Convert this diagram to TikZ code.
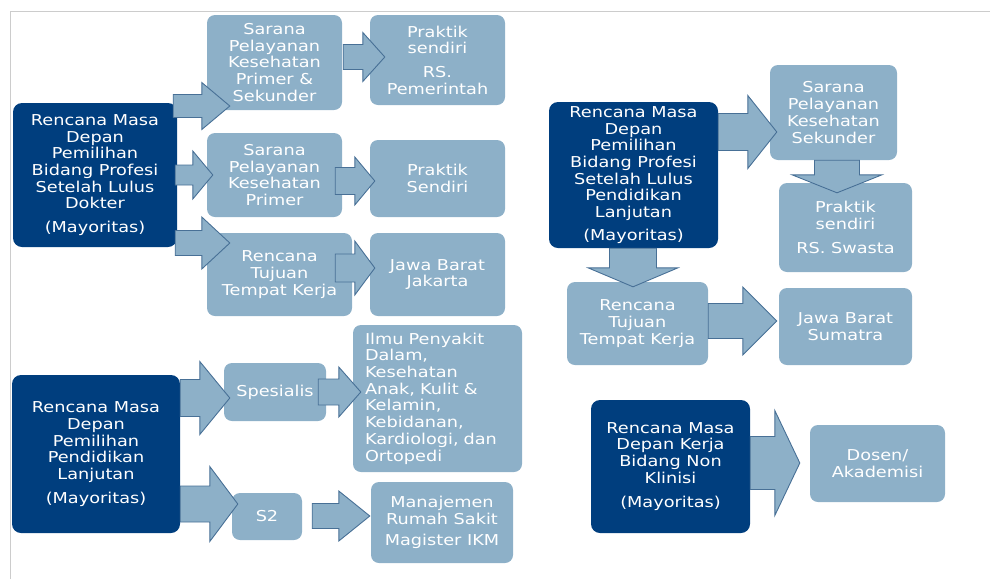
\documentclass[tikz,border=0pt]{standalone}
\usepackage{fontspec}
\setmainfont{DejaVu Sans}[FakeStretch=1.18]
\usetikzlibrary{calc}
\definecolor{navy}{RGB}{0,62,126}
\definecolor{paleblue}{RGB}{141,176,200}
\definecolor{arrowedge}{RGB}{72,112,150}
\definecolor{framegray}{RGB}{204,204,204}
\tikzstyle{darkbox} = [rectangle, rounded corners=9pt, fill=navy, text=white, align=center, inner sep=0pt, font=\fontsize{15}{16.7}\selectfont]
\tikzstyle{lightbox} = [rectangle, rounded corners=8pt, fill=paleblue, text=white, align=center, inner sep=0pt, font=\fontsize{15}{16.7}\selectfont]
\tikzstyle{blockarrow} = [fill=paleblue, draw=arrowedge, line width=0.9pt, line join=miter]
\tikzset{
  rblock/.style args={#1/#2/#3}{blockarrow, to path={let \p1=(\tikztostart), \p2=(\tikztotarget) in
    (\x1,\y2+#1) -- (\x2-#3,\y2+#1) -- (\x2-#3,\y2+#2) -- (\x2,\y2) -- (\x2-#3,\y2-#2) -- (\x2-#3,\y2-#1) -- (\x1,\y2-#1) -- cycle}},
  dblock/.style args={#1/#2/#3}{blockarrow, to path={let \p1=(\tikztostart), \p2=(\tikztotarget) in
    (\x2-#1,\y1) -- (\x2-#1,\y2+#3) -- (\x2-#2,\y2+#3) -- (\x2,\y2) -- (\x2+#2,\y2+#3) -- (\x2+#1,\y2+#3) -- (\x2+#1,\y1) -- cycle}}
}

\begin{document}
\begin{tikzpicture}[x=1pt, y=-1pt]
    \useasboundingbox (0,0) rectangle (990,579);
    \draw[framegray, line width=1pt] (10,579) -- (10,11) -- (990,11);

    % Nodes
    \node [darkbox, minimum width=164pt, minimum height=144pt] (dokter) at (95,175) {Rencana Masa\\Depan\\Pemilihan\\Bidang Profesi\\Setelah Lulus\\Dokter\\[7pt](Mayoritas)};
    \node [lightbox, minimum width=135pt, minimum height=95pt] (primsek) at (274.5,62.5) {Sarana\\Pelayanan\\Kesehatan\\Primer \&\\Sekunder};
    \node [lightbox, minimum width=135pt, minimum height=84pt] (primer) at (274.5,175) {Sarana\\Pelayanan\\Kesehatan\\Primer};
    \node [lightbox, minimum width=145pt, minimum height=83pt] (tujuan1) at (279.5,274.5) {Rencana\\Tujuan\\Tempat Kerja};
    \node [lightbox, minimum width=135pt, minimum height=90pt] (praktik1) at (437.5,60) {Praktik\\sendiri\\[7pt]RS.\\Pemerintah};
    \node [lightbox, minimum width=135pt, minimum height=77pt] (praktik2) at (437.5,178.5) {Praktik\\Sendiri};
    \node [lightbox, minimum width=135pt, minimum height=83pt] (jabar1) at (437.5,274.5) {Jawa Barat\\Jakarta};

    \node [darkbox, minimum width=168pt, minimum height=158pt] (lanjut) at (96,454) {Rencana Masa\\Depan\\Pemilihan\\Pendidikan\\Lanjutan\\[7pt](Mayoritas)};
    \node [lightbox, minimum width=102pt, minimum height=58pt] (spesialis) at (275,392) {Spesialis};
    \node [lightbox, minimum width=70pt, minimum height=47pt] (magister) at (267,516.5) {S2};
    \node [lightbox, minimum width=169pt, minimum height=147pt, text width=145pt, align=left] (ilmu) at (437.5,398.5) {Ilmu Penyakit\\Dalam,\\Kesehatan\\Anak, Kulit \&\\Kelamin,\\Kebidanan,\\Kardiologi, dan\\Ortopedi};
    \node [lightbox, minimum width=142pt, minimum height=81pt] (manajemen) at (442,522.5) {Manajemen\\Rumah Sakit\\[5pt]Magister IKM};

    \node [darkbox, minimum width=169pt, minimum height=146pt] (pasca) at (633.5,175) {Rencana Masa\\Depan\\Pemilihan\\Bidang Profesi\\Setelah Lulus\\Pendidikan\\Lanjutan\\[6pt](Mayoritas)};
    \node [lightbox, minimum width=127pt, minimum height=95pt] (sekunder) at (833.5,112.5) {Sarana\\Pelayanan\\Kesehatan\\Sekunder};
    \node [lightbox, minimum width=133pt, minimum height=89pt] (swasta) at (845.5,227.5) {Praktik\\sendiri\\[7pt]RS. Swasta};
    \node [lightbox, minimum width=141pt, minimum height=83pt] (tujuan2) at (637.5,323.5) {Rencana\\Tujuan\\Tempat Kerja};
    \node [lightbox, minimum width=133pt, minimum height=77pt] (jabar2) at (845.5,326.5) {Jawa Barat\\Sumatra};

    \node [darkbox, minimum width=159pt, minimum height=133pt] (nonklinis) at (670.5,466.5) {Rencana Masa\\Depan Kerja\\Bidang Non\\Klinisi\\[8pt](Mayoritas)};
    \node [lightbox, minimum width=135pt, minimum height=77pt] (dosen) at (877.5,463.5) {Dosen/\\Akademisi};

    % Arrows
    \path [rblock=11.5pt/23.5pt/28pt] ([xshift=-4pt]dokter.east) to ($(primsek.west)+(23,43.5)$);
    \path [rblock=10pt/24pt/20pt] ([xshift=-2pt]dokter.east) to ($(primer.west)+(6,0)$);
    \path [rblock=12.5pt/26pt/28pt] ([xshift=-2pt]dokter.east) to ($(tujuan1.west)+(23,-31.5)$);
    \path [rblock=12.5pt/24.5pt/22pt] ([xshift=1pt]primsek.east) to ($(praktik1.west)+(15,-3)$);
    \path [rblock=13.5pt/24pt/20pt] ([xshift=-7pt]primer.east) to ($(praktik2.west)+(5,2.5)$);
    \path [rblock=14pt/27pt/20pt] ([xshift=-17pt]tujuan1.east) to ($(jabar1.west)+(5,-6.5)$);
    \path [rblock=18.5pt/36.5pt/30pt] (lanjut.east) to ($(spesialis.west)+(6,6)$);
    \path [rblock=18pt/37.5pt/28pt] (lanjut.east) to ($(magister.west)+(6,-12.5)$);
    \path [rblock=13pt/25pt/22pt] ([xshift=-8pt]spesialis.east) to ($(ilmu.west)+(8,-6.5)$);
    \path [rblock=12.5pt/25pt/31pt] ([xshift=10pt]magister.east) to ($(manajemen.west)+(-1,-6.5)$);
    \path [rblock=18.5pt/36.5pt/29pt] (pasca.east) to ($(sekunder.west)+(7,19.5)$);
    \path [dblock=22.5pt/45pt/18pt] (sekunder.south) to ($(swasta.north)+(-8.5,10)$);
    \path [dblock=23.5pt/45pt/19pt] (pasca.south) to ($(tujuan2.north)+(-4.5,5)$);
    \path [rblock=17.5pt/34pt/34pt] (tujuan2.east) to ($(jabar2.west)+(-2,-5.5)$);
    \path [rblock=26.5pt/52.5pt/25pt] (nonklinis.east) to ($(dosen.west)+(-10,-0.5)$);
\end{tikzpicture}
\end{document}
